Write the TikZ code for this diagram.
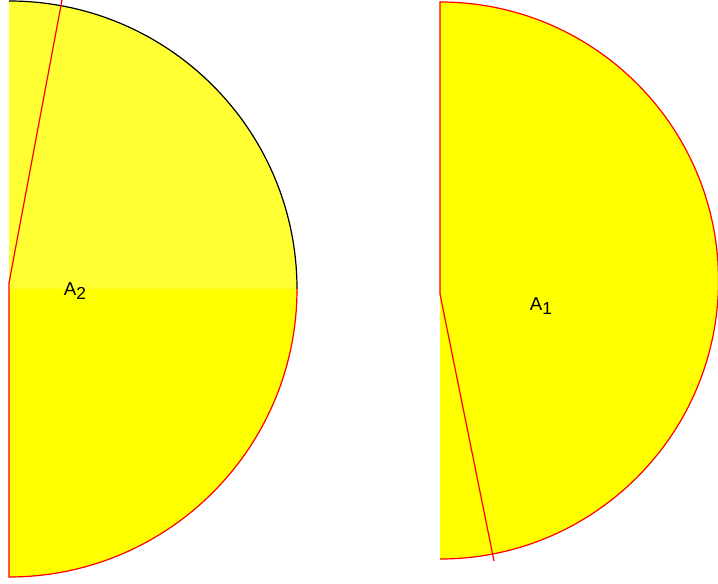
\documentclass[tikz,border=0pt]{standalone}
\usepackage{fontspec}
\setmainfont{Liberation Sans}
\usetikzlibrary{calc}
\definecolor{paleyellow}{RGB}{255,255,51}
\definecolor{fullyellow}{RGB}{255,255,0}
\definecolor{fullred}{RGB}{255,0,0}
\newcommand{\lowsub}[1]{\raisebox{-0.45ex}{\fontsize{13}{15}\selectfont #1}}
\tikzset{
	redline/.style={draw=fullred,line width=0.9pt},
	blackline/.style={draw=black,line width=0.9pt},
	arealabel/.style={font=\fontsize{14}{16}\selectfont,inner sep=0pt}
}

\begin{document}
\begin{tikzpicture}[x=0.75pt,y=0.75pt]
			%%%%% START %%%%%
			\useasboundingbox (0,0) rectangle (718,583);
			
			% left half disc
			\fill[paleyellow] (9,294) -- (9,582) arc (90:0:288) -- cycle;
			\fill[fullyellow] (9,294) -- (297,294) arc (0:-90:288) -- cycle;
			\draw[blackline] (9,582) arc (90:0:288);
			\draw[redline] (297,294) arc (0:-90:288) -- (9,300);
			\draw[redline] (9,300) -- (62,583);
			\node[arealabel] (a2) at (75,292) {A\lowsub{2}};
			
			% right half disc
			\fill[fullyellow] (440,302.5) -- (440,581) arc (90:-90:278.5) -- cycle;
			\draw[redline] (440,289) -- (440,581) arc (90:-90:278.5);
			\draw[redline] (440,289) -- (494,22);
			\node[arealabel] (a1) at (541,277) {A\lowsub{1}};
			
			%%%%% END %%%%%
\end{tikzpicture}
\end{document}
